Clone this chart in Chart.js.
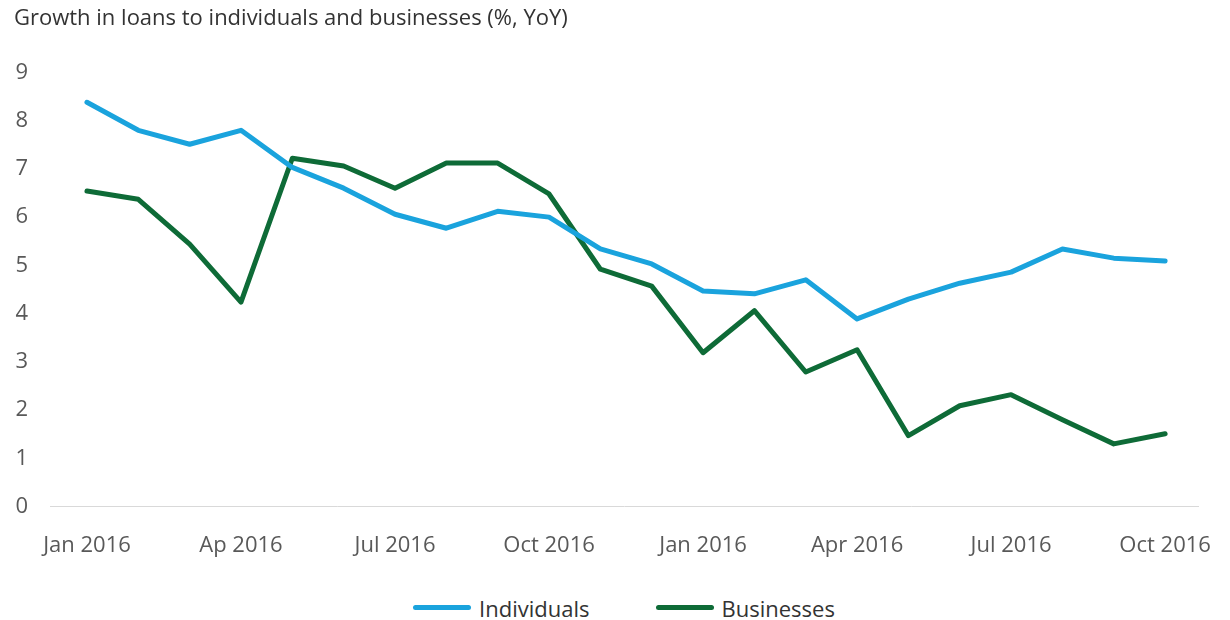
<!DOCTYPE html>
<html>
<head>
<meta charset="utf-8">
<script src="https://cdn.jsdelivr.net/npm/chart.js@4"></script>
<style>
  html, body { margin: 0; padding: 0; background: #fff; }
  #wrap { width: 1230px; height: 620px; position: relative; font-family: "Open Sans", sans-serif; }
  #box { width: 1230px; height: 595px; position: relative; }
  /* legend centred under the plot area, not the page */
  #legend { height: 25px; display: flex; justify-content: center; align-items: center; gap: 66px; padding-left: 18px; color: #333; font-size: 22px; }
  #legend .item { display: flex; align-items: center; }
  #legend .swatch { width: 58px; height: 5px; border-radius: 3px; margin-right: 8px; }
</style>
</head>
<body>
<div id="wrap">
  <div id="box"><canvas id="chart"></canvas></div>
  <div id="legend"></div>
</div>
<script>
// monthly points, Jan 2016 .. Oct (following year)
const individuals = [8.38, 7.80, 7.51, 7.80, 7.03, 6.60, 6.06, 5.77, 6.12, 6.00, 5.34,
                     5.03, 4.47, 4.41, 4.70, 3.89, 4.30, 4.63, 4.86, 5.34, 5.15, 5.09];
const businesses  = [6.54, 6.37, 5.44, 4.24, 7.22, 7.06, 6.60, 7.12, 7.12, 6.48, 4.92,
                     4.57, 3.19, 4.06, 2.79, 3.25, 1.47, 2.09, 2.32, 1.80, 1.30, 1.51];
// x tick labels as printed on the source (every 3rd month)
const tickPos    = [0, 3, 6, 9, 12, 15, 18, 21];
const tickLabels = ['Jan 2016', 'Ap 2016', 'Jul 2016', 'Oct 2016',
                    'Jan 2016', 'Apr 2016', 'Jul 2016', 'Oct 2016'];

const BLUE = '#1aa3dd';
const GREEN = '#0e6b37';

Chart.defaults.font.family = '"Open Sans", sans-serif';
Chart.defaults.font.size = 22;
Chart.defaults.color = '#595959';

const toXY = arr => arr.map((v, i) => ({ x: i, y: v }));

const chart = new Chart(document.getElementById('chart'), {
  type: 'line',
  data: {
    datasets: [
      { label: 'Individuals', data: toXY(individuals), borderColor: BLUE, backgroundColor: BLUE },
      { label: 'Businesses',  data: toXY(businesses),  borderColor: GREEN, backgroundColor: GREEN },
    ],
  },
  options: {
    responsive: true,
    maintainAspectRatio: false,
    animation: false,
    layout: { padding: { left: 14, right: 31, bottom: 10 } },
    elements: {
      line: { borderWidth: 5, tension: 0, borderJoinStyle: 'round', borderCapStyle: 'round' },
      point: { radius: 0, hoverRadius: 0 },
    },
    scales: {
      x: {
        type: 'linear',
        min: -0.72,
        max: 21.66,
        afterBuildTicks: axis => { axis.ticks = tickPos.map(v => ({ value: v })); },
        // labels may run into the right margin, don't shrink the plot for them
        afterFit: axis => { axis.paddingLeft = 0; axis.paddingRight = 0; },
        ticks: {
          padding: 26,
          maxRotation: 0,
          autoSkip: false,
          callback: v => tickLabels[tickPos.indexOf(v)],
        },
        grid: { display: false, drawTicks: false },
        border: { display: false },
      },
      y: {
        min: 0,
        max: 9,
        afterFit: axis => { axis.width = 36; },
        ticks: { stepSize: 1, padding: 22 },
        grid: {
          drawTicks: false,
          lineWidth: 1,
          color: c => (c.tick && c.tick.value === 0 ? '#d9d9d9' : 'rgba(0,0,0,0)'),
        },
        border: { display: false },
      },
    },
    plugins: {
      legend: { display: false },
      tooltip: { enabled: false },
      title: {
        display: true,
        text: 'Growth in loans to individuals and businesses (%, YoY)',
        align: 'start',
        color: '#333',
        font: { size: 22, weight: 'normal' },
        padding: { top: 6, bottom: 40 },
      },
    },
  },
});

// html legend (line swatches)
const legendEl = document.getElementById('legend');
chart.data.datasets.forEach(ds => {
  const item = document.createElement('div');
  item.className = 'item';
  item.innerHTML = `<span class="swatch" style="background:${ds.borderColor}"></span><span>${ds.label}</span>`;
  legendEl.appendChild(item);
});
</script>
</body>
</html>
